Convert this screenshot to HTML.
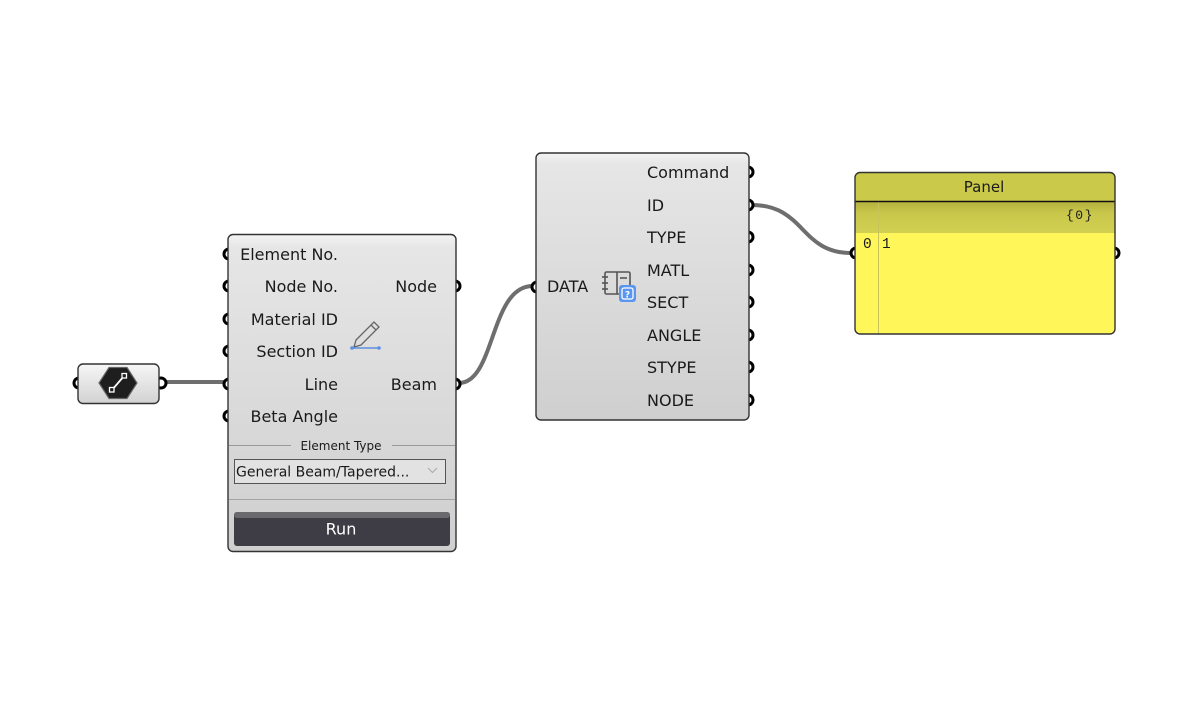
<!DOCTYPE html>
<html><head><meta charset="utf-8"><style>
html,body{margin:0;padding:0;background:#fff;}
svg{display:block;}
text{font-family:"DejaVu Sans","Liberation Sans",sans-serif;fill:#1a1a1a;}
.mono{font-family:"Liberation Mono","DejaVu Sans Mono",monospace;}
</style></head><body>
<svg width="1194" height="713" viewBox="0 0 1194 713" xmlns="http://www.w3.org/2000/svg">
<defs>
<linearGradient id="gComp" x1="0" y1="0" x2="0" y2="1">
<stop offset="0" stop-color="#f4f4f4"/>
<stop offset="0.04" stop-color="#e6e6e6"/>
<stop offset="1" stop-color="#cfcfcf"/>
</linearGradient>
<linearGradient id="gParam" x1="0" y1="0" x2="0" y2="1">
<stop offset="0" stop-color="#f6f6f6"/>
<stop offset="1" stop-color="#d2d2d2"/>
</linearGradient>
<linearGradient id="gBand" x1="0" y1="0" x2="0" y2="1">
<stop offset="0" stop-color="#b5b33e"/>
<stop offset="0.4" stop-color="#cac84c"/>
<stop offset="1" stop-color="#d2d051"/>
</linearGradient>
</defs>

<!-- wires -->
<g fill="none" stroke="#6e6e6e" stroke-width="4" stroke-linecap="round">
<path d="M163 382 L224 382"/>
<path d="M459 383 C495 383 490 287 532 286"/>
<path d="M752 205 C805 205 800 253 851 253"/>
</g>

<!-- ports (rings drawn under boxes) -->
<g fill="#fff" stroke="#000" stroke-width="3">
<circle cx="79" cy="383" r="5"/>
<circle cx="161" cy="383" r="5"/>
<circle cx="229" cy="254" r="5"/>
<circle cx="229" cy="286" r="5"/>
<circle cx="229" cy="319" r="5"/>
<circle cx="229" cy="351" r="5"/>
<circle cx="229" cy="384" r="5"/>
<circle cx="229" cy="416" r="5"/>
<circle cx="455" cy="286" r="5"/>
<circle cx="455" cy="384" r="5"/>
<circle cx="537" cy="287" r="5"/>
<circle cx="748" cy="172" r="5"/>
<circle cx="748" cy="205" r="5"/>
<circle cx="748" cy="237" r="5"/>
<circle cx="748" cy="270" r="5"/>
<circle cx="748" cy="302" r="5"/>
<circle cx="748" cy="335" r="5"/>
<circle cx="748" cy="367" r="5"/>
<circle cx="748" cy="400" r="5"/>
<circle cx="856" cy="253" r="5"/>
<circle cx="1114" cy="253" r="5"/>
</g>

<!-- small param -->
<rect x="78" y="364" width="81" height="39.5" rx="5" fill="url(#gParam)" stroke="#333" stroke-width="1.4"/>
<polygon points="99,383 109,367.5 127,367.5 137,383 127,398.5 109,398.5" fill="#1e1e1e" stroke="#666" stroke-width="1.2"/>
<line x1="112" y1="390" x2="124" y2="376" stroke="#fff" stroke-width="1.8"/>
<rect x="109.5" y="387.5" width="4.5" height="4.5" fill="#1e1e1e" stroke="#fff" stroke-width="1.3"/>
<rect x="122" y="373.5" width="4.5" height="4.5" fill="#1e1e1e" stroke="#fff" stroke-width="1.3"/>

<!-- big component -->
<rect x="228" y="234.5" width="228" height="317" rx="5" fill="url(#gComp)" stroke="#333" stroke-width="1.4"/>
<g font-size="16" text-anchor="end">
<text x="338" y="260">Element No.</text>
<text x="338" y="292">Node No.</text>
<text x="338" y="325">Material ID</text>
<text x="338" y="357">Section ID</text>
<text x="338" y="390">Line</text>
<text x="338" y="422">Beta Angle</text>
<text x="437" y="292">Node</text>
<text x="437" y="390">Beam</text>
</g>
<!-- pencil icon -->
<g fill="none" stroke="#666" stroke-width="1.3">
<path d="M356 340 L374 322 L379 327 L361 345 L354 347 Z"/>
<line x1="371" y1="325" x2="376" y2="330"/>
</g>
<line x1="352" y1="348" x2="379" y2="348" stroke="#5b8fe0" stroke-width="1.5"/>
<circle cx="352" cy="348" r="1.8" fill="#5b8fe0"/>
<circle cx="379" cy="348" r="1.8" fill="#5b8fe0"/>

<line x1="229" y1="445.5" x2="291" y2="445.5" stroke="#9a9a9a" stroke-width="1"/>
<line x1="392" y1="445.5" x2="455" y2="445.5" stroke="#9a9a9a" stroke-width="1"/>
<text x="341" y="450" font-size="12" text-anchor="middle" fill="#333">Element Type</text>
<rect x="234.5" y="459.5" width="211" height="24" fill="#e2e2e2" stroke="#555" stroke-width="1"/>
<text x="236" y="476.5" font-size="14">General Beam/Tapered...</text>
<path d="M428 468 L432.5 472.5 L437 468" fill="none" stroke="#aaa" stroke-width="1"/>
<line x1="229" y1="499.5" x2="455" y2="499.5" stroke="#a5a5a5" stroke-width="1"/>
<rect x="234" y="512" width="216" height="34" rx="3" fill="#3e3d45"/>
<rect x="234" y="512" width="216" height="6" rx="3" fill="#6a6a6e"/>
<text x="341" y="534.5" font-size="16" text-anchor="middle" style="fill:#fff">Run</text>

<!-- middle component -->
<rect x="536" y="153" width="213" height="267" rx="5" fill="url(#gComp)" stroke="#333" stroke-width="1.4"/>
<text x="547" y="292" font-size="16">DATA</text>
<g font-size="16">
<text x="647" y="178">Command</text>
<text x="647" y="211">ID</text>
<text x="647" y="243">TYPE</text>
<text x="647" y="276">MATL</text>
<text x="647" y="308">SECT</text>
<text x="647" y="341">ANGLE</text>
<text x="647" y="373">STYPE</text>
<text x="647" y="406">NODE</text>
</g>
<!-- book icon -->
<g fill="none" stroke="#555" stroke-width="1.6">
<rect x="605" y="272" width="25" height="22" rx="1.5"/>
<line x1="617" y1="272" x2="617" y2="294"/>
<line x1="602" y1="277" x2="608" y2="277"/>
<line x1="602" y1="283" x2="608" y2="283"/>
<line x1="602" y1="289" x2="608" y2="289"/>
<line x1="620" y1="278" x2="627" y2="278"/>
</g>
<rect x="619" y="285" width="17" height="17" rx="3" fill="#5a95f0"/>
<rect x="622" y="288" width="11" height="11" rx="2" fill="none" stroke="#fff" stroke-width="1.3"/>
<text x="627.5" y="297.5" font-size="9" text-anchor="middle" style="fill:#fff" font-weight="bold">?</text>

<!-- panel -->
<clipPath id="pc"><rect x="855" y="172" width="260" height="162" rx="5"/></clipPath>
<g clip-path="url(#pc)">
<rect x="855" y="172" width="260" height="162" fill="#fff65a"/>
<rect x="855" y="172" width="260" height="29" fill="#cbc94a"/>
<rect x="855" y="202" width="260" height="31" fill="url(#gBand)"/>
<line x1="878.5" y1="202" x2="878.5" y2="334" stroke="#c9c45a" stroke-width="1"/>
</g>
<line x1="855" y1="201.5" x2="1115" y2="201.5" stroke="#111" stroke-width="1.6"/>
<rect x="855" y="172.5" width="260" height="161.5" rx="5" fill="none" stroke="#333" stroke-width="1.4"/>
<text x="984" y="192" font-size="15" text-anchor="middle">Panel</text>
<text x="1066" y="219" font-size="13" class="mono" fill="#333" letter-spacing="1.5">{0}</text>
<text x="863" y="248" font-size="14.5" class="mono" fill="#333">0</text>
<text x="882" y="248" font-size="14.5" class="mono" fill="#222">1</text>
</svg>
</body></html>
